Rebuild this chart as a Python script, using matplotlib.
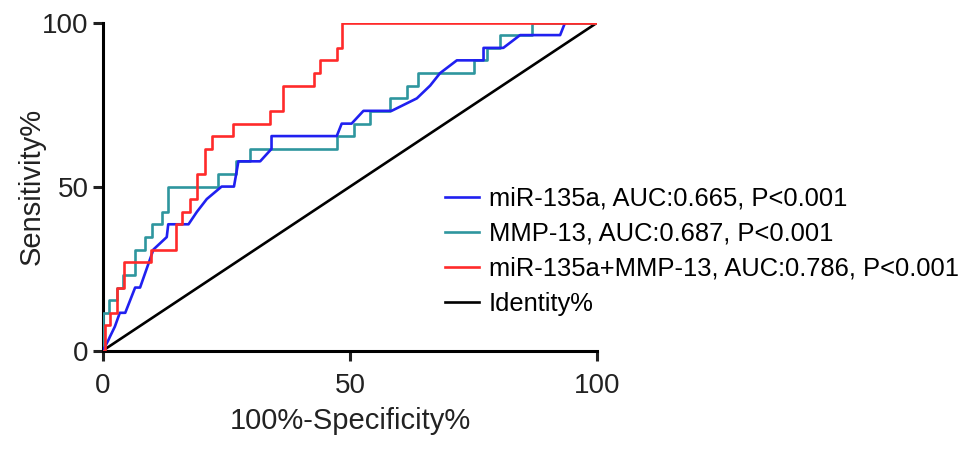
import matplotlib.pyplot as plt

plt.rcParams['font.family'] = ['Liberation Sans', 'DejaVu Sans']

# ROC curves: (100% - specificity, sensitivity)
mir_x = [0, 1.1, 1.4, 2.4, 3.4, 4.5, 6.5, 7.5, 10.2, 12.9, 13.2, 17.3, 19.0, 21.0, 24.0,
         26.5, 27.4, 31.8, 34.1, 34.1, 47.3, 48.3, 50.3, 52.7, 58.4, 63.5, 66.2, 68.2,
         71.6, 77.0, 77.0, 81.0, 84.4, 92.5, 93.5, 100]
mir_y = [0, 3.2, 4.2, 7.3, 11.5, 11.5, 19.2, 19.2, 30.8, 34.6, 38.5, 38.5, 42.3, 46.2, 50.0,
         50.0, 57.7, 57.7, 61.5, 65.4, 65.4, 69.2, 69.2, 73.1, 73.1, 76.9, 80.8, 84.6,
         88.5, 88.5, 92.3, 92.3, 96.2, 96.2, 100, 100]

mmp_x = [0, 0, 1.2, 1.2, 2.8, 2.8, 4.0, 4.0, 6.5, 6.5, 8.5, 8.5, 9.9, 9.9, 11.9, 11.9,
         13.1, 13.1, 23.3, 23.3, 27.0, 27.0, 29.8, 29.8, 47.3, 47.3, 50.7, 50.7, 54.0,
         54.0, 58.1, 58.1, 61.5, 61.5, 63.8, 63.8, 75.0, 75.0, 77.7, 77.7, 80.4, 80.4,
         86.8, 86.8, 100]
mmp_y = [0, 11.5, 11.5, 15.4, 15.4, 19.2, 19.2, 23.1, 23.1, 30.8, 30.8, 34.6, 34.6, 38.5,
         38.5, 42.3, 42.3, 50.0, 50.0, 53.8, 53.8, 57.7, 57.7, 61.5, 61.5, 65.4, 65.4,
         69.2, 69.2, 73.1, 73.1, 76.9, 76.9, 80.8, 80.8, 84.6, 84.6, 88.5, 88.5, 92.3,
         92.3, 96.2, 96.2, 100, 100]

comb_x = [0, 0.4, 0.4, 1.4, 1.4, 2.8, 2.8, 4.2, 4.2, 9.8, 9.8, 14.8, 14.8, 15.9, 15.9,
          17.6, 17.6, 19.0, 19.0, 20.6, 20.6, 22.0, 22.0, 26.4, 26.4, 33.8, 33.8, 36.5,
          36.5, 42.6, 42.6, 43.9, 43.9, 47.3, 47.3, 48.3, 48.3, 100]
comb_y = [0, 0, 7.7, 7.7, 11.5, 11.5, 19.2, 19.2, 26.9, 26.9, 30.8, 30.8, 38.5, 38.5, 42.3,
          42.3, 46.2, 46.2, 53.8, 53.8, 61.5, 61.5, 65.4, 65.4, 69.2, 69.2, 73.1, 73.1,
          80.8, 80.8, 84.6, 84.6, 88.5, 88.5, 92.3, 92.3, 100, 100]

ident = [0, 100]

labels = ['miR-135a, AUC:0.665, P<0.001',
          'MMP-13, AUC:0.687, P<0.001',
          'miR-135a+MMP-13, AUC:0.786, P<0.001',
          'Identity%']

fig = plt.figure(figsize=(9.69, 4.51), dpi=100)
ax = fig.add_axes([0.1063, 0.2228, 0.51, 0.727])

lw = 1.9
ax.plot(mmp_x, mmp_y, color='#2e969e', lw=lw, label=labels[1], zorder=3)
ax.plot(mir_x, mir_y, color='#2020f0', lw=lw, label=labels[0], zorder=4)
ax.plot(comb_x, comb_y, color='#ff2a2a', lw=lw, label=labels[2], zorder=5)
ax.plot(ident, ident, color='black', lw=lw, label=labels[3], zorder=2)

ax.set_xlim(0, 100)
ax.set_ylim(0, 100)
ax.set_xticks([0, 50, 100])
ax.set_yticks([0, 50, 100])
for s in ['top', 'right']:
    ax.spines[s].set_visible(False)
for s in ['left', 'bottom']:
    ax.spines[s].set_linewidth(2.2)
ax.tick_params(width=2.2, length=7, labelsize=20, colors='#222222', labelcolor='#222222')
ax.tick_params(axis='x', pad=9)
ax.set_xlabel('100%-Specificity%', fontsize=21, color='#222222', labelpad=6)
ax.set_ylabel('Sensitivity%', fontsize=21, color='#222222', labelpad=-3)

h, l = ax.get_legend_handles_labels()
order = [1, 0, 2, 3]
ax.legend([h[i] for i in order], [l[i] for i in order], loc='upper left',
          bbox_to_anchor=(0.672, 0.53), frameon=False, fontsize=18.4,
          handlelength=1.3, handletextpad=0.4, labelspacing=0.43, borderaxespad=0)

fig.savefig('out.png', dpi=100)
